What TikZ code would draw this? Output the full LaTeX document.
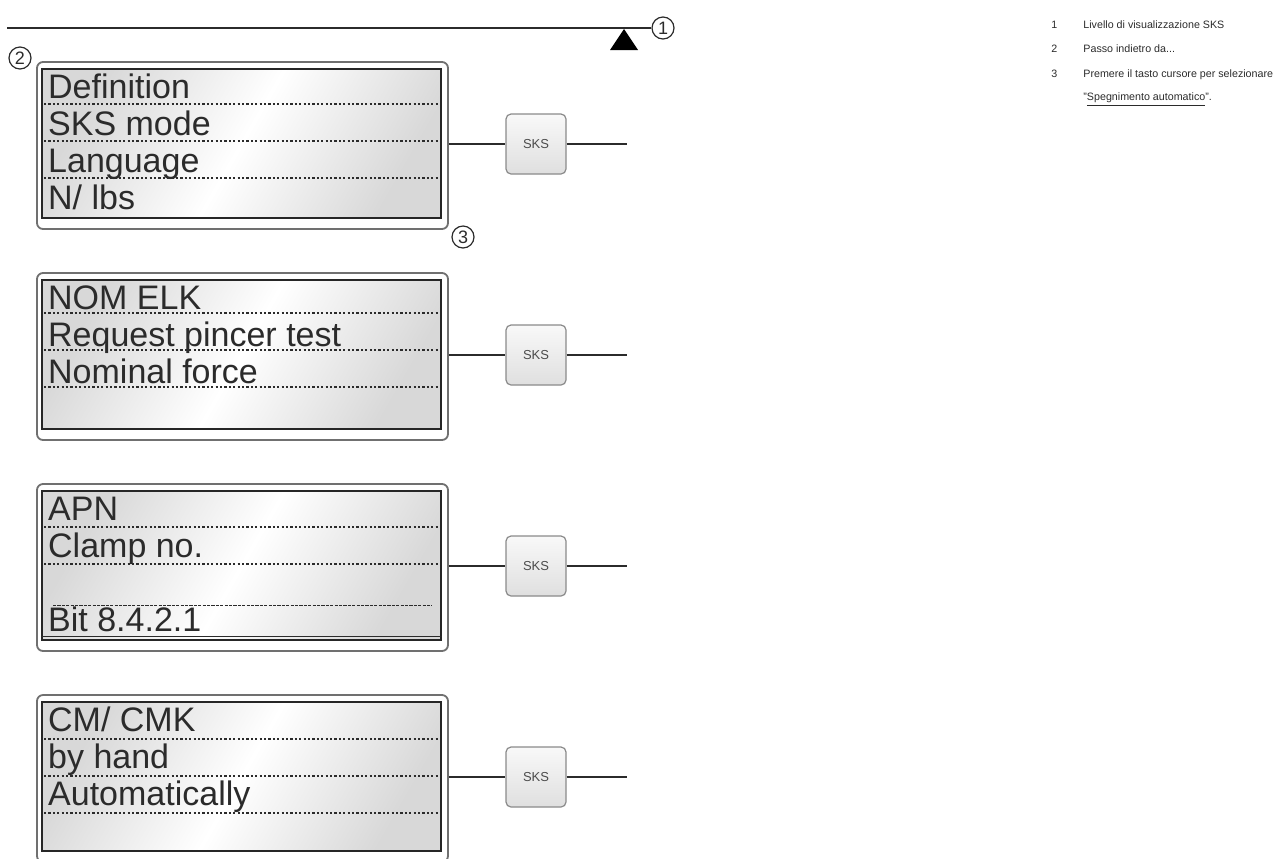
\documentclass[tikz,border=0pt]{standalone}
\usepackage{fontspec}
\setmainfont{Liberation Sans}
\usetikzlibrary{positioning,calc}
\definecolor{encre}{HTML}{2B2B2B}
\definecolor{cadregris}{HTML}{707070}
\definecolor{fondlcd}{HTML}{D8D8D8}
\definecolor{touchegris}{HTML}{8A8A8A}

\begin{document}
\begin{tikzpicture}[x=0.5pt,y=-0.5pt,
  cadre/.style={draw=cadregris,line width=0.9pt,rounded corners=3pt,fill=white,minimum width=205.5pt,minimum height=83.5pt,inner sep=0pt},
  ecran/.style={draw=black!85,line width=1.2pt,left color=fondlcd,right color=fondlcd,middle color=white,shading angle=60,minimum width=199.5pt,minimum height=74.5pt,inner sep=0pt},
  touche/.style={draw=touchegris,line width=0.6pt,rounded corners=2.5pt,top color=white!95!gray,bottom color=gray!25,minimum size=30pt,inner sep=0pt,font=\fontsize{6.5}{8}\selectfont,text=gray!60!black},
  ligne/.style={anchor=base west,inner sep=0pt,font=\fontsize{17}{18}\selectfont,text=encre},
  pointille/.style={draw=encre,line width=0.55pt,dash pattern=on 1.1pt off 1.1pt},
  repere/.style={circle,draw=encre,line width=0.6pt,inner sep=0pt,minimum size=11pt,font=\fontsize{9}{9}\selectfont,text=encre},
  legende/.style={anchor=base west,inner sep=0pt,font=\fontsize{5.35}{11.5}\selectfont,text=encre},
  lien/.style={draw=encre,line width=0.8pt}]
  \useasboundingbox (0,0) rectangle (1278,858);
  \clip (0,0) rectangle (1278,858);
  % niveau SKS
  \node[repere] (n1) at (663,28) {1};
  \node[repere] (n2) at (20,58) {2};
  \node[repere] (n3) at (463,237) {3};
  \coordinate (g0) at (7,28);
  \draw[lien] (g0) -- (n1.west);
  \fill[black] (624,29) -- (638,50) -- (610,50) -- cycle;
  % ecrans et touches
  \foreach \i/\y in {1/62,2/273,3/484,4/695}{
    \node[cadre] (c\i) at (242.5,\y+83.5) {};
    \node[ecran] (e\i) at (241.5,\y+81.5) {};
    \node[touche] (k\i) at (536,\y+82) {SKS};
    \coordinate (f\i) at (627,\y+82);
    \draw[lien] (c\i.east |- k\i) -- (k\i.west);
    \draw[lien] (k\i.east) -- (f\i);
  }
  \foreach \i/\y/\d/\n in {1/62/0/2,2/273/-2/2,3/484/1/1,4/695/2/2}
    \foreach \r in {0,...,\n}
      \draw[pointille] (44,\y+\d+42+37*\r) -- (438,\y+\d+42+37*\r);
  \draw[encre,line width=0.5pt,dash pattern=on 1.6pt off 0.6pt] (53,605) -- (432,605);
  \draw[encre,line width=0.6pt] ([yshift=2.2pt]e3.south west) -- ([yshift=2.2pt]e3.south east);
  % textes
  \foreach \i/\r/\t in {1/0/Definition,1/1/SKS mode,1/2/Language,1/3/{N/ lbs},
                        2/0/NOM ELK,2/1/Request pincer test,2/2/Nominal force,
                        3/0/APN,3/1/Clamp no.,3/3/Bit 8.4.2.1,
                        4/0/{CM/ CMK},4/1/by hand,4/2/Automatically}
    \node[ligne] (t\i\r) at ($(e\i.north west)+(7,31+37*\r)$) {\t};
  % legende
  \node[legende] (l1) at (1051,28) {1};
  \node[legende] (d1) at (1083,28) {Livello di visualizzazione SKS};
  \node[legende] (l2) at (1051,52) {2};
  \node[legende] (d2) at (1083,52) {Passo indietro da...};
  \node[legende] (l3) at (1051,77) {3};
  \node[legende,align=left] (d3) at (1083,100) {Premere il tasto cursore per selezionare\\"\underline{Spegnimento automatico}".};
\end{tikzpicture}
\end{document}
